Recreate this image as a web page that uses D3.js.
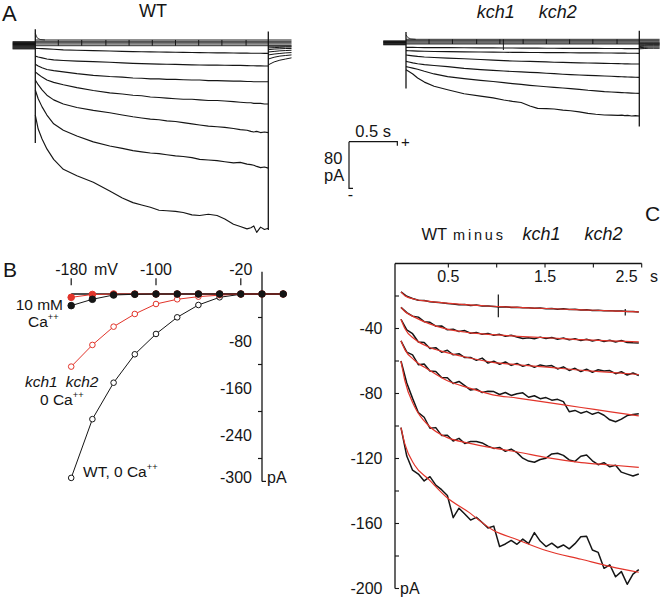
<!DOCTYPE html>
<html><head><meta charset="utf-8">
<script src="https://cdn.jsdelivr.net/npm/d3@7"></script>
<style>body{margin:0;background:#fff}</style>
</head><body>
<svg id="c" width="666" height="601" xmlns="http://www.w3.org/2000/svg"></svg>
<script>
// ---------------- DATA ----------------
// Panel A: time grid (s) and current traces (pA)
const tA = [0, 0.03, 0.07, 0.12, 0.19, 0.29, 0.43, 0.6, 0.77, 0.9, 1.01, 1.1, 1.19, 1.28, 1.36, 1.45, 1.53, 1.62, 1.7, 1.79, 1.88, 1.96, 2.05, 2.12, 2.19, 2.23, 2.26, 2.29, 2.33, 2.37, 2.41];
const wtTrace1 = [-120, -144, -161, -178, -196, -213, -224, -235, -250, -262, -270, -274, -278, -283, -284, -285, -287, -291, -292, -290, -292, -298, -307, -311, -315, -313, -310, -321, -312, -316, -314];
const wtTrace2 = [-77, -92, -106, -120, -135, -146, -156, -166, -173, -177, -181, -183, -185, -186, -188, -190, -191, -193, -196, -197, -198, -200, -202, -201, -204, -205, -206, -208, -210, -209, -211];
const wtTrace3 = [-60, -68, -77, -86, -94, -101, -107, -112, -116, -120, -123, -125, -127, -128, -130, -131, -133, -135, -137, -139, -140, -141, -143, -145, -146, -148, -149, -148, -150, -149, -150];
const wtTrace4 = [-46, -50, -55, -60, -64, -68, -73, -78, -82, -84, -86, -87, -89, -90, -91, -92, -93, -93, -94, -95, -95, -96, -97, -98, -99, -99, -100, -100, -100, -101, -101];
const wtTrace5 = [-33, -36, -39, -42, -44, -46, -49, -52, -54, -55, -56.5, -57, -58, -58, -59, -59, -59.5, -60, -60, -61, -61, -61.5, -62, -62, -62.5, -62.5, -63, -63, -63, -63, -63];
const wtTrace6 = [-19, -20.5, -22, -24, -25.5, -26.5, -27.5, -28.5, -29.5, -30.5, -31.4, -32, -32.3, -32.7, -33, -33.3, -33.6, -34, -34.3, -34.5, -34.6, -34.7, -34.8, -35, -35.3, -35.5, -35.6, -35.7, -35.8, -35.9, -36];
const wtTrace7 = [-5.7, -6, -6.3, -6.7, -7.3, -8.3, -9, -9.7, -10.3, -10.8, -11.4, -11.6, -11.8, -12, -12.2, -12.4, -12.6, -12.8, -13, -13.2, -13.4, -13.6, -13.7, -13.9, -14, -14.1, -14.1, -14.2, -14.2, -14.3, -14.3];
const kTrace1 = [-46, -49, -53, -60, -67, -74, -80, -87, -91, -94, -97.6, -100, -102, -108, -112, -112.5, -113, -115, -116, -118, -120.5, -122, -123.3, -123.5, -124, -123.5, -124.5, -124, -125, -124.5, -125];
const kTrace2 = [-40.5, -41.5, -43, -45, -48.5, -53, -57.5, -61, -64, -66, -68, -69.5, -71, -72.5, -73.7, -75, -76, -77, -78.2, -79.5, -81, -82, -83.4, -84, -84.5, -85, -85.3, -85.5, -85.8, -86, -86.2];
const kTrace3 = [-31.5, -32.5, -34, -35.5, -37, -38.5, -40.5, -43.5, -45.5, -46.8, -48, -48.8, -49.5, -50.2, -50.8, -51.8, -52.5, -53.5, -54.2, -54.8, -55.4, -56, -56.5, -57, -57.5, -57.8, -58, -58.2, -58.5, -58.7, -58.8];
const kTrace4 = [-20.6, -21.2, -22, -23, -24, -24.9, -25.8, -27, -28.3, -29.4, -30.3, -30.8, -31.2, -31.6, -32, -32.4, -32.9, -33.3, -33.7, -34, -34.3, -34.6, -34.8, -35.1, -35.4, -35.5, -35.7, -35.8, -35.9, -36, -36];
const kTrace5 = [-13.1, -13.3, -13.5, -13.8, -14.1, -14.5, -14.8, -15.1, -15.4, -15.6, -15.8, -16, -16.1, -16.2, -16.3, -16.4, -16.5, -16.6, -16.7, -16.8, -16.9, -17, -17.1, -17.2, -17.3, -17.4, -17.4, -17.5, -17.6, -17.6, -17.7];
const kTrace6 = [-7.4, -7.5, -7.6, -7.7, -7.8, -7.9, -8, -8.2, -8.3, -8.4, -8.5, -8.6, -8.7, -8.8, -8.9, -9, -9, -9.1, -9.2, -9.2, -9.3, -9.3, -9.4, -9.4, -9.5, -9.5, -9.6, -9.6, -9.6, -9.7, -9.7];
// tail currents after the pulse
const tTailWT = [2.41, 2.47, 2.53, 2.59, 2.65];
const wtTails = [[-34, -29, -26, -24, -22], [-24, -21, -19, -18, -17], [-17, -15.5, -14.5, -13.5, -13], [-12, -11, -10, -9.5, -9], [-8, -7, -6.5, -6, -6], [-5, -4.5, -4, -3.5, -3.5], [-2, -2, -2, -2, -2]];
const tTailK = [2.41, 2.46, 2.51, 2.56, 2.62];
const kTails = [[-10, -9.5, -9, -9, -9], [-8, -7.5, -7, -7, -7], [-6, -5.5, -5, -5, -5], [-4, -4, -3.5, -3.5, -3.5], [-2, -2, -2, -2, -2], [0, 0, 0, 0, 0]];
// holding-potential and near-zero traces (pA)
const wtHold = [5.5, 4, 2.5, 1, -0.5, -2, -3.5, -5, -6.5];
const wtBundle = [8.6, 6.3, 3.9, 1.7, -1.2];
const kHold = [3.5, 2.3, 1, -0.3, -1.6, -2.9];
const kBundle = [6.3, 4, 2, 0, -1.7];
const artifactT = [0.238, 0.48, 0.73, 0.97, 1.21, 1.45, 1.69, 1.93, 2.18];
const wtCap = [{t: 0, hi: 27, lo: -168}, {t: 2.41, hi: 23, lo: -317}];
const kCap = [{t: 0, hi: 19, lo: -78}, {t: 2.41, hi: 21, lo: -143}];
const transT = [0, 0.02, 0.05, 0.1];
const wtTrans = [20, 12, 9.5, 8.6];
const kTrans = [14, 9, 7, 6.3];
const kSpike = {t: 1.006, hi: 6.3, lo: -12};

// Panel B: I-V curves
const mV = [-180, -160, -140, -120, -100, -80, -60, -40, -20, 0, 20];
const wt0Ca = [-313, -213, -151, -102.6, -68, -39.7, -18.7, -5.6, -0.5, 0, 0];
const kch0Ca = [-123.6, -86.7, -55.6, -34, -17, -9, -4.5, -2, 0, 0, 0];
const wt10Ca = [-19.8, -9, -1.7, -0.5, 0, 0, 0, 0, 0, 0, 0];
const kch10Ca = [-5.7, -0.8, 0, 0, 0, 0, 0, 0, 0, 0, 0];
const bXTicks = [-180, -100, -20];
const bYLabels = [-80, -160, -240];
const bYMinor = [-40, -120, -200, -280];

// Panel C: difference currents (WT minus kch1 kch2), black = recording, red = fit
const tN = [0.01, 0.07, 0.13, 0.19, 0.25, 0.31, 0.37, 0.43, 0.49, 0.55, 0.61, 0.67, 0.73, 0.79, 0.85, 0.91, 0.97, 1.03, 1.09, 1.15, 1.21, 1.27, 1.33, 1.39, 1.45, 1.51, 1.57, 1.63, 1.69, 1.75, 1.81, 1.87, 1.93, 1.99, 2.05, 2.11, 2.17, 2.23, 2.29, 2.35, 2.41, 2.47];
const diff1 = [-17.5, -20.2, -21.5, -22.6, -22.8, -23.6, -23.9, -24.2, -24.6, -24.9, -25.4, -25.2, -25.8, -25.6, -26.2, -26.1, -26.4, -26.8, -26.6, -27.1, -26.9, -27.3, -27.2, -27.6, -27.4, -27.8, -27.7, -28.1, -27.9, -28.3, -28.2, -28.6, -28.4, -28.9, -28.7, -29.1, -29.0, -29.3, -29.2, -29.6, -29.5, -29.9];
const diff2 = [-27, -30.2, -32.4, -33, -35.8, -36.2, -38.6, -38.4, -40.8, -40.4, -41.9, -41.3, -42.9, -42.4, -43.6, -43, -44.1, -43.6, -44.8, -44.1, -45.2, -46.2, -45.7, -46.3, -45.3, -46.2, -45.5, -46.6, -45.9, -47, -46.3, -47.4, -46.6, -47.7, -46.9, -48, -47.2, -48.3, -47.4, -48.6, -48.8, -48.9];
const diff3 = [-34.3, -40.8, -43.2, -48.3, -48.6, -52.3, -51.8, -54.6, -53.4, -56.2, -55.5, -57.9, -57.8, -59.6, -58.2, -61.3, -60.1, -62, -60.6, -62.7, -61.5, -63.3, -62.2, -63.9, -62.4, -63.2, -62.8, -64.9, -63.6, -65.8, -64.5, -66.5, -65.1, -66.9, -65.4, -66.1, -65.9, -67.8, -66.6, -68.6, -67.4, -68.9];
const diff4 = [-47.6, -54.5, -56.2, -62.3, -61.8, -66.2, -66.4, -70.1, -70.3, -73.8, -72.6, -75.1, -77.9, -77.2, -79.4, -78.6, -78.8, -80.6, -79.4, -81.2, -80.1, -79.6, -82.3, -81.4, -83.2, -82.5, -84.1, -83.6, -85, -91.2, -90.4, -92.1, -91, -92.8, -91.6, -93.4, -96.2, -97.4, -95.8, -93.6, -92.9, -92.4];
const diff5 = [-60, -73.5, -83, -91.8, -94.6, -101.4, -101, -105.8, -105.7, -109.2, -107.6, -110.8, -109.5, -109.6, -110.4, -112.4, -113.8, -113.2, -115.6, -114.2, -116.4, -119.8, -121.6, -122.3, -120.6, -119.8, -117.2, -116.8, -118.1, -120.9, -121.8, -118.6, -117.9, -121.4, -123.8, -122.6, -125.1, -124.2, -128.4, -129.6, -130.8, -129.5];
const diff6 = [-101, -118.5, -127.2, -129.6, -133.8, -131.2, -136.4, -139.2, -142.8, -156.4, -150.6, -154.2, -157.9, -156.2, -159.4, -162.8, -161.6, -174.2, -172.6, -170.4, -172.8, -169.6, -172.4, -165.6, -170.8, -174.2, -172.1, -174.9, -173.2, -175.6, -172.4, -168.2, -167.8, -176.3, -177.8, -187.6, -185.4, -192.8, -189.6, -197.4, -191.2, -188.4];
const tFit = [0.01, 0.05, 0.15, 0.30, 0.485, 0.71, 0.96, 1.215, 1.52, 1.875, 2.18, 2.47];
const fit1 = [-17.5, -19.8, -22, -23.3, -24.4, -25.5, -26.3, -27, -27.7, -28.5, -29.1, -29.8];
const fit2 = [-27, -29.5, -33, -37, -40.4, -42.5, -43.8, -44.8, -45.7, -46.9, -47.6, -48.2];
const fit3 = [-34.3, -40, -46.5, -51.5, -54.8, -58, -60.8, -62.3, -63.8, -65.7, -67, -68.3];
const fit4 = [-47.6, -53, -59.5, -65.5, -72, -76.5, -80.8, -82.8, -85.5, -88.6, -91.3, -93.8];
const fit5 = [-60, -72, -88, -100, -107, -110.5, -113.5, -116, -119.5, -122.5, -124, -125.5];
const fit6 = [-101, -111, -124, -133, -144, -153, -164, -170, -176.8, -182, -186.5, -190];
const cSpikes = [{t: 1.017, hi: -19, lo: -33}, {t: 2.33, hi: -28, lo: -32}];
const cXLabels = [0.5, 1.5];
const cXTicks = [0.5, 1, 1.5, 2, 2.5];
const cYLabels = [-40, -80, -120, -160, -200];
const cYTicks = [-20, -40, -60, -80, -100, -120, -140, -160, -180, -200];

// ---------------- DRAWING ----------------
const FONT = '"Liberation Sans", Arial, Helvetica, sans-serif';
const INK = "#151515";
const RED = "#e2342a";
const svg = d3.select("#c");

function txt(x, y, s, o = {}) {
  const t = svg.append("text").attr("x", x).attr("y", y)
    .attr("font-family", FONT).attr("font-size", o.fs || 16).attr("fill", INK);
  if (s !== null) t.text(s);
  if (o.anchor) t.attr("text-anchor", o.anchor);
  if (o.italic) t.attr("font-style", "italic");
  if (o.dy) t.attr("dy", o.dy);
  if (o.len) t.attr("textLength", o.len);
  return t;
}
function caText(x, y, prefix, fs, anchor) {
  const t = txt(x, y, null, {fs, anchor});
  t.append("tspan").text(prefix + "Ca");
  t.append("tspan").text("++").attr("font-size", fs * 0.6).attr("dy", -fs * 0.42);
  return t;
}

// ---- Panel A ----
const xWT = d3.scaleLinear().domain([0, 2.41]).range([35.3, 268.3]);
const xK = d3.scaleLinear().domain([0, 2.41]).range([406, 639.3]);
const yWT = d3.scaleLinear().domain([0, -80]).range([45, 91.7]);
const yK = d3.scaleLinear().domain([0, -80]).range([43, 89.7]);

function recording(x, y, d) {
  const g = svg.append("g").attr("fill", "none").attr("stroke", INK).attr("stroke-linejoin", "round");
  const line = d3.line().x(p => x(p[0])).y(p => y(p[1]));
  d.hold.forEach(v => g.append("path").attr("d", line([[-0.235, v], [0, v]])).attr("stroke-width", 1.2));
  d.bundle.forEach(v => g.append("path").attr("d", line([[0, v], [d.tEnd, v]])).attr("stroke-width", 0.9));
  artifactT.forEach(t => g.append("path")
    .attr("d", line([[t, d.bundle[0]], [t, d.bundle[d.bundle.length - 1]]])).attr("stroke-width", 1));
  g.append("path").attr("d", line(transT.map((t, i) => [t, d.trans[i]]))).attr("stroke-width", 0.8);
  d.traces.forEach(vals => g.append("path")
    .attr("d", line(tA.map((t, i) => [t, vals[i]]))).attr("stroke-width", 1.15));
  d.tails.forEach(vals => g.append("path")
    .attr("d", line(d.tTail.map((t, i) => [t, vals[i]]))).attr("stroke-width", 1));
  d.cap.forEach(c => g.append("path").attr("d", line([[c.t, c.hi], [c.t, c.lo]])).attr("stroke-width", 1.3));
  if (d.spike) g.append("path").attr("d", line([[d.spike.t, d.spike.hi], [d.spike.t, d.spike.lo]])).attr("stroke-width", 1);
}
recording(xWT, yWT, {
  hold: wtHold, bundle: wtBundle, tEnd: 2.65, trans: wtTrans,
  traces: [wtTrace1, wtTrace2, wtTrace3, wtTrace4, wtTrace5, wtTrace6, wtTrace7],
  tails: wtTails, tTail: tTailWT, cap: wtCap
});
recording(xK, yK, {
  hold: kHold, bundle: kBundle, tEnd: 2.62, trans: kTrans,
  traces: [kTrace1, kTrace2, kTrace3, kTrace4, kTrace5, kTrace6],
  tails: kTails, tTail: tTailK, cap: kCap, spike: kSpike
});
txt(2, 20.7, "A", {fs: 22});
txt(153, 17, "WT", {fs: 18, anchor: "middle"});
txt(476.7, 18.3, "kch1", {fs: 18, italic: true});
txt(576.7, 18.3, "kch2", {fs: 18, italic: true, anchor: "end"});

// scale bar (0.5 s, 80 pA) using the panel-A scales
{
  const sx = 349, sy = 141.7;
  const w = xWT(0.5) - xWT(0), h = yWT(-80) - yWT(0);
  const g = svg.append("g").attr("fill", "none").attr("stroke", INK).attr("stroke-width", 1.2);
  g.append("path").attr("d", `M${sx},${sy}H${sx + w}v4`);
  g.append("path").attr("d", `M${sx},${sy}V${sy + h}h4`);
  txt(sx + w / 2, sy - 5, "0.5 s", {fs: 16.5, anchor: "middle"});
  txt(324, 164, "80", {fs: 16.5});
  txt(324, 180.5, "pA", {fs: 16.5});
  txt(sx + w + 8, sy + 5, "+", {fs: 15, anchor: "middle"});
  txt(sx + 1.5, sy + h + 12, "-", {fs: 16, anchor: "middle"});
}

// ---- Panel B ----
const xB = d3.scaleLinear().domain([-180, -20]).range([71.2, 240.8]);
const yB = d3.scaleLinear().domain([0, -80]).range([294, 341]);
{
  const g = svg.append("g").attr("fill", "none").attr("stroke", INK);
  g.append("line").attr("x1", xB(-180)).attr("x2", xB(22)).attr("y1", yB(0)).attr("y2", yB(0)).attr("stroke-width", 1.3);
  g.append("line").attr("x1", xB(0)).attr("x2", xB(0)).attr("y1", yB(38)).attr("y2", yB(-319)).attr("stroke-width", 1.3);
  g.append("line").attr("x1", xB(0)).attr("x2", xB(0) + 4).attr("y1", yB(-319)).attr("y2", yB(-319)).attr("stroke-width", 1.2);
  bYMinor.forEach(v => g.append("line").attr("x1", xB(0) - 4).attr("x2", xB(0)).attr("y1", yB(v)).attr("y2", yB(v)).attr("stroke-width", 1.2));
  bXTicks.forEach(v => g.append("line").attr("x1", xB(v)).attr("x2", xB(v)).attr("y1", yB(27)).attr("y2", yB(15)).attr("stroke-width", 1.2));
  bXTicks.forEach(v => txt(xB(v), 275, String(v), {fs: 16, anchor: "middle"}));
  txt(94, 275, "mV", {fs: 16});
  bYLabels.forEach(v => txt(252, yB(v), String(v), {fs: 16, anchor: "end", dy: "0.35em"}));
  txt(252, yB(-313), "-300", {fs: 16, anchor: "end", dy: "0.35em"});
  txt(267, yB(-313), "pA", {fs: 16, dy: "0.35em"});

  const ln = vals => d3.line().x((d, i) => xB(mV[i])).y(d => yB(d))(vals);
  const series = [
    {v: wt0Ca, c: INK, fill: "#fff", r: 2.8},
    {v: kch0Ca, c: RED, fill: "#fff", r: 2.8},
    {v: kch10Ca, c: RED, fill: RED, r: 3.3},
    {v: wt10Ca, c: INK, fill: INK, r: 3.3}
  ];
  series.forEach(s => {
    svg.append("path").attr("d", ln(s.v)).attr("fill", "none").attr("stroke", s.c).attr("stroke-width", 1);
  });
  series.forEach(s => {
    svg.append("g").selectAll("circle").data(s.v).join("circle")
      .attr("cx", (d, i) => xB(mV[i])).attr("cy", d => yB(d)).attr("r", s.r)
      .attr("fill", s.fill).attr("stroke", s.c).attr("stroke-width", 1);
  });
  txt(3, 277, "B", {fs: 21});
  txt(63, 310, "10 mM", {fs: 15.5, anchor: "end"});
  caText(28, 326.7, "", 15.5);
  txt(25, 386.7, "kch1", {fs: 15.5, italic: true});
  txt(98.5, 386.7, "kch2", {fs: 15.5, italic: true, anchor: "end"});
  caText(40, 405, "0 ", 15.5);
  caText(83, 476.7, "WT, 0 ", 15.5);
}

// ---- Panel C ----
const xC = d3.scaleLinear().domain([0, 2.5]).range([400, 641.7]);
const yC = d3.scaleLinear().domain([0, -200]).range([263.5, 588.5]);
{
  const g = svg.append("g").attr("fill", "none").attr("stroke", INK).attr("stroke-width", 1.3);
  g.append("line").attr("x1", 395).attr("x2", xC(2.5)).attr("y1", yC(0)).attr("y2", yC(0));
  g.append("line").attr("x1", 395).attr("x2", 395).attr("y1", yC(0)).attr("y2", yC(-200));
  cXTicks.forEach(t => g.append("line").attr("x1", xC(t)).attr("x2", xC(t)).attr("y1", yC(0)).attr("y2", yC(0) + 4).attr("stroke-width", 1.1));
  cYTicks.forEach(v => g.append("line").attr("x1", 395).attr("x2", 399).attr("y1", yC(v)).attr("y2", yC(v)).attr("stroke-width", 1.1));
  cXLabels.forEach(t => txt(xC(t), 282, String(t), {fs: 16, anchor: "middle"}));
  txt(xC(2.5) - 4, 282, "2.5", {fs: 16, anchor: "end"});
  txt(650, 282, "s", {fs: 16});
  cYLabels.forEach(v => txt(382.5, yC(v), String(v), {fs: 16, anchor: "end", dy: "0.35em"}));
  txt(400, yC(-200), "pA", {fs: 16, dy: "0.35em"});

  const blk = [diff1, diff2, diff3, diff4, diff5, diff6];
  const fits = [fit1, fit2, fit3, fit4, fit5, fit6];
  const lnN = d3.line().x((d, i) => xC(tN[i])).y(d => yC(d));
  const lnF = d3.line().x((d, i) => xC(tFit[i])).y(d => yC(d)).curve(d3.curveMonotoneX);
  blk.forEach(v => svg.append("path").attr("d", lnN(v)).attr("fill", "none").attr("stroke", INK).attr("stroke-width", 1.5).attr("stroke-linejoin", "round"));
  cSpikes.forEach(s => svg.append("line").attr("x1", xC(s.t)).attr("x2", xC(s.t)).attr("y1", yC(s.hi)).attr("y2", yC(s.lo)).attr("stroke", INK).attr("stroke-width", 1.2));
  fits.forEach(v => svg.append("path").attr("d", lnF(v)).attr("fill", "none").attr("stroke", RED).attr("stroke-width", 1.2));

  txt(421.5, 240, "WT", {fs: 16.5});
  txt(453, 240, "minus", {fs: 14.5, len: 50});
  txt(522.5, 240, "kch1", {fs: 18, italic: true});
  txt(622.5, 240, "kch2", {fs: 18, italic: true, anchor: "end"});
  txt(645, 221, "C", {fs: 21});
}
</script>
</body></html>
